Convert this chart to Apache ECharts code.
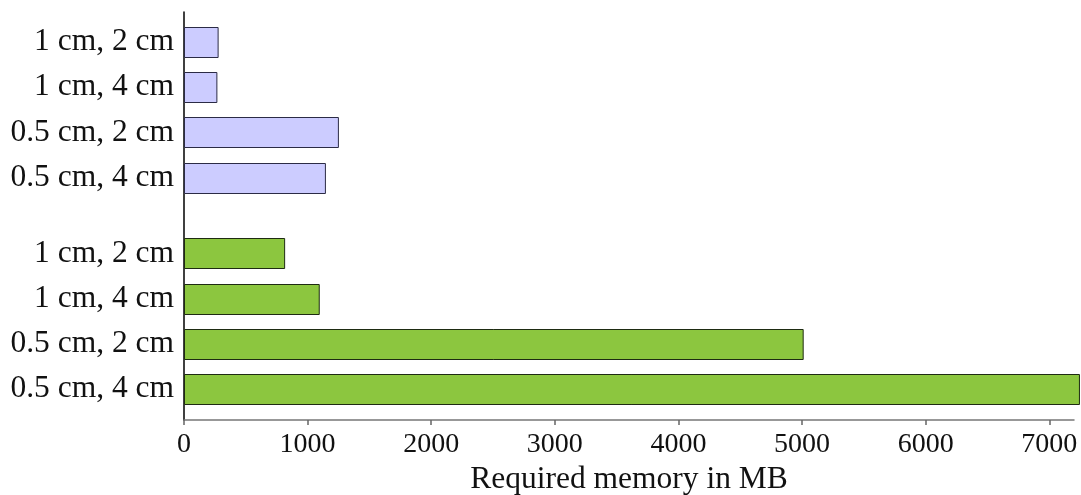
<!DOCTYPE html>
<html>
<head>
<meta charset="utf-8">
<script src="https://cdn.jsdelivr.net/npm/echarts@6/dist/echarts.min.js"></script>
<style>
  html, body { margin: 0; padding: 0; background: #fff; }
  #chart { width: 1081px; height: 495px; }
</style>
</head>
<body>
<div id="chart"></div>
<script>
// Configuration labels, bottom to top within each group
const configLabels = ['0.5 cm, 4 cm', '0.5 cm, 2 cm', '1 cm, 4 cm', '1 cm, 2 cm'];

// Vertical slot of each bar on the y scale (the two groups are separated by a gap)
const greenPositions = [0, 1, 2, 3];
const bluePositions = [4.67, 5.67, 6.67, 7.67];

// Required memory in MB
const greenValues = [7240, 5005, 1090, 810];
const blueValues = [1140, 1245, 262, 272];

// X axis ticks
const xTicks = [0, 1000, 2000, 3000, 4000, 5000, 6000, 7000];

const FONT = 'Liberation Serif';
const BAR_HEIGHT = 30;

const allPositions = greenPositions.concat(bluePositions);
const allLabels = configLabels.concat(configLabels);

function barRenderer(fill, stroke) {
  return function (params, api) {
    const value = api.value(0);
    const pos = api.value(1);
    const start = api.coord([0, pos]);
    const end = api.coord([value, pos]);
    return {
      type: 'rect',
      shape: {
        x: Math.round(start[0]) + 0.5,
        y: Math.round(start[1] - BAR_HEIGHT / 2) + 0.5,
        width: end[0] - start[0],
        height: BAR_HEIGHT
      },
      style: { fill: fill, stroke: stroke, lineWidth: 1 }
    };
  };
}

const chart = echarts.init(document.getElementById('chart'), null, { renderer: 'canvas' });

chart.setOption({
  animation: false,
  backgroundColor: '#ffffff',
  grid: {
    left: 184,
    right: 7,
    top: 12,
    bottom: 75,
    containLabel: false,
    outerBoundsMode: 'none'
  },
  xAxis: {
    type: 'value',
    min: 0,
    max: 7200,
    name: 'Required memory in MB',
    nameLocation: 'middle',
    nameGap: 42,
    nameTextStyle: { fontFamily: FONT, fontSize: 31.5, color: '#111' },
    axisLine: { show: true, onZero: false, lineStyle: { color: '#777', width: 1.5 } },
    axisTick: { show: true, customValues: xTicks, length: 5, inside: false, lineStyle: { color: '#666', width: 1.5 } },
    axisLabel: {
      customValues: xTicks,
      fontFamily: FONT,
      fontSize: 28,
      color: '#111',
      margin: 11,
      formatter: function (v) { return String(v); }
    },
    splitLine: { show: false }
  },
  yAxis: {
    type: 'value',
    min: -0.68,
    max: 8.33,
    axisLine: { show: true, onZero: false, lineStyle: { color: '#000', width: 1.5 } },
    axisTick: { show: false },
    axisLabel: {
      customValues: allPositions,
      fontFamily: FONT,
      fontSize: 31.5,
      color: '#111',
      margin: 10,
      formatter: function (v) {
        let best = 0;
        for (let i = 1; i < allPositions.length; i++) {
          if (Math.abs(allPositions[i] - v) < Math.abs(allPositions[best] - v)) best = i;
        }
        return allLabels[best];
      }
    },
    splitLine: { show: false }
  },
  series: [
    {
      name: 'coarse',
      type: 'custom',
      renderItem: barRenderer('#ccccff', '#2b2b45'),
      encode: { x: 0, y: 1 },
      data: blueValues.map((v, i) => [v, bluePositions[i]])
    },
    {
      name: 'fine',
      type: 'custom',
      renderItem: barRenderer('#8cc63f', '#1e2b12'),
      encode: { x: 0, y: 1 },
      data: greenValues.map((v, i) => [v, greenPositions[i]])
    }
  ]
});
</script>
</body>
</html>
